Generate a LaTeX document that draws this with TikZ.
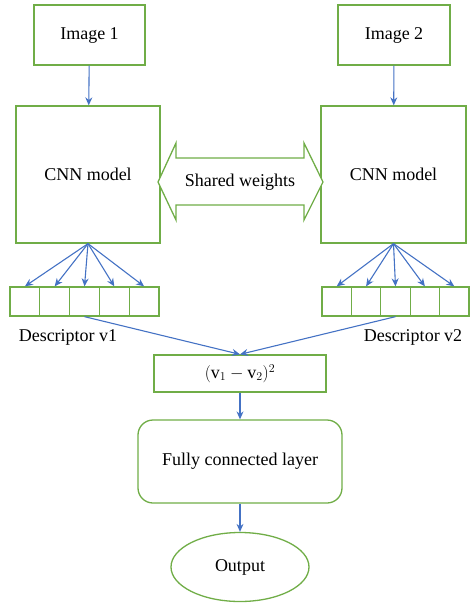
\documentclass[tikz,border=0pt]{standalone}
\usepackage{fontspec}
\setmainfont{Liberation Serif}
\usetikzlibrary{shapes.geometric,arrows.meta}
\definecolor{boxgreen}{HTML}{70AD47}
\definecolor{arrowblue}{HTML}{4472C4}
\tikzset{
  box/.style={draw=boxgreen, line width=1.3pt, inner sep=0pt, align=center, font=\fontsize{18}{22}\selectfont},
  cell/.style={draw=boxgreen, line width=1.3pt, inner sep=0pt, minimum width=29.8pt, minimum height=29pt},
  conn/.style={draw=arrowblue, line width=1.1pt, -{Stealth[length=8pt,width=7pt]}},
  lbl/.style={inner sep=0pt, font=\fontsize{18}{22}\selectfont}
}
\begin{document}
\begin{tikzpicture}[x=1pt,y=-1pt]
\useasboundingbox (0,0) rectangle (470,603);
% top boxes
\node[box, minimum width=111pt, minimum height=60pt] (img1) at (89.5,35) {Image 1};
\node[box, minimum width=112pt, minimum height=60pt] (img2) at (394,35) {Image 2};
% CNN boxes
\node[box, minimum width=144pt, minimum height=137pt] (cnn1) at (88,174.5) {CNN model};
\node[box, minimum width=145pt, minimum height=137pt] (cnn2) at (393.5,174.5) {CNN model};
% shared weights double arrow
\draw[boxgreen, line width=1.3pt, fill=white]
  (158,182) -- (176,143) -- (176,158) -- (304,158) -- (304,143) -- (323,182)
  -- (304,220) -- (304,205) -- (176,205) -- (176,220) -- cycle;
\node[lbl] (shared) at (240,182) {Shared weights};
% descriptor cells
\foreach \i/\x in {1/24.9,2/54.7,3/84.5,4/114.3,5/144.1}{
  \node[cell] (a\i) at (\x,301.5) {};
}
\foreach \i/\x in {1/336.7,2/366.1,3/395.5,4/424.9,5/454.3}{
  \node[cell, minimum width=29.4pt] (b\i) at (\x,301.5) {};
}
\node[lbl] (d1) at (68,337) {Descriptor v1};
\node[lbl] (d2) at (413,337) {Descriptor v2};
% lower boxes
\node[box, minimum width=172pt, minimum height=37pt] (diff) at (240,373.5) {$(\mathrm{v}_1-\mathrm{v}_2)^2$};
\node[box, minimum width=204pt, minimum height=83pt, rounded corners=15pt] (fc) at (240,461.5) {Fully connected layer};
\node[box, ellipse, minimum width=138pt, minimum height=69pt] (out) at (240,567) {Output};
% connectors
\draw[conn] (img1) -- (cnn1);
\draw[conn] (img2) -- (cnn2);
\foreach \i in {1,...,5}{
  \draw[conn] (cnn1.south) -- (a\i.north);
  \draw[conn] (cnn2.south) -- (b\i.north);
}
\draw[conn] (a3.south) -- (diff.north);
\draw[conn] (b3.south) -- (diff.north);
\draw[conn] (diff) -- (fc);
\draw[conn] (fc) -- (out);
\end{tikzpicture}
\end{document}
